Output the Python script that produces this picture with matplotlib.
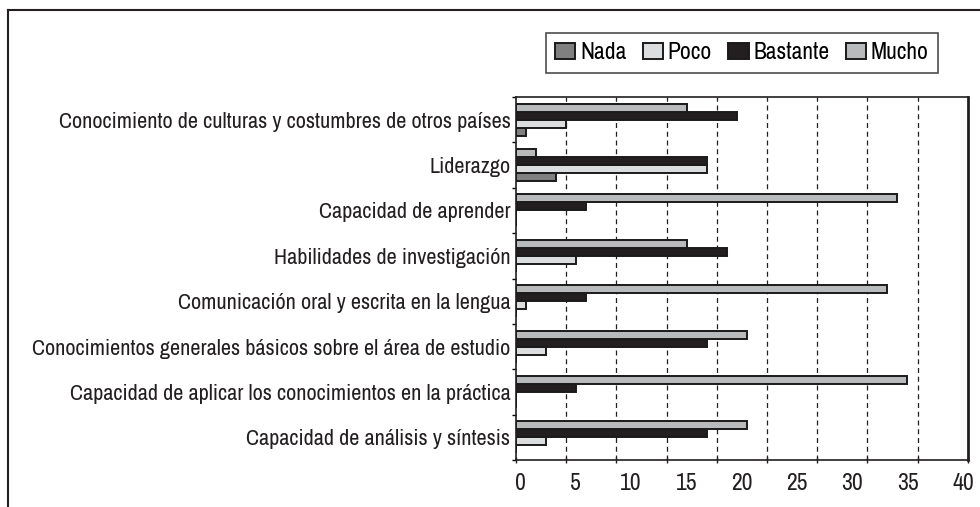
import matplotlib
matplotlib.use("Agg")
import matplotlib.pyplot as plt
import numpy as np
from matplotlib.lines import Line2D
from matplotlib.ticker import FixedLocator, NullFormatter
from matplotlib import font_manager

# pick a narrow/condensed face if one is installed
narrow = None
for f in font_manager.fontManager.ttflist:
    n = f.name
    if 'Narrow' in n or 'Condensed' in n:
        narrow = (n, 'normal')
        break
if narrow is None:
    for f in font_manager.fontManager.ttflist:
        if f.name == 'DejaVu Sans' and f.stretch in ('condensed', 'semi-condensed', 500, 300):
            narrow = ('DejaVu Sans', 'condensed')
            break

if narrow is not None:
    plt.rcParams['font.family'] = [narrow[0], 'DejaVu Sans']
    plt.rcParams['font.stretch'] = narrow[1]
    scale = 1.0
else:
    plt.rcParams['font.family'] = ['DejaVu Sans']
    scale = 0.7

categories = [
    "Conocimiento de culturas y costumbres de otros países",
    "Liderazgo",
    "Capacidad de aprender",
    "Habilidades de investigación",
    "Comunicación oral y escrita en la lengua",
    "Conocimientos generales básicos sobre el área de estudio",
    "Capacidad de aplicar los conocimientos en la práctica",
    "Capacidad de análisis y síntesis",
]
series_names = ["Nada", "Poco", "Bastante", "Mucho"]
nada     = [1, 4, 0, 0, 0, 0, 0, 0]
poco     = [5, 19, 0, 6, 1, 3, 0, 3]
bastante = [22, 19, 7, 21, 7, 19, 6, 19]
mucho    = [17, 2, 38, 17, 37, 23, 39, 23]
tick_labels = [0, 5, 10, 15, 20, 25, 30, 35, 40]

colors = {"Nada": "#808080", "Poco": "#dcdddf", "Bastante": "#231f20", "Mucho": "#b9babc"}

fig = plt.figure(figsize=(9.8, 5.07), dpi=100)
ax = fig.add_axes([516/980, 1 - 460/507, (967.7 - 516)/980, (460 - 97)/507])

y = np.arange(len(categories))
h = 0.176
data = {"Nada": nada, "Poco": poco, "Bastante": bastante, "Mucho": mucho}
offsets = {"Mucho": -1.5*h, "Bastante": -0.5*h, "Poco": 0.5*h, "Nada": 1.5*h}
handles = []
for name in series_names:
    b = ax.barh(y + offsets[name], data[name], height=h, color=colors[name],
                edgecolor="#1a1a1a", linewidth=1.4, zorder=3, label=name)
    handles.append(b)

ax.set_xlim(0, 45)
ax.set_ylim(len(categories) - 0.5, -0.5)
ax.set_yticks(y)
ax.set_yticklabels(categories, fontsize=16*scale, color="#231f20")
ax.yaxis.set_minor_locator(FixedLocator(np.arange(-0.5, len(categories), 1.0)))
ax.tick_params(axis='y', which='major', length=0, pad=4)
ax.tick_params(axis='y', which='minor', length=3, width=1, direction='out')

ax.set_xticks(np.arange(0, 46, 5))
ax.xaxis.set_major_formatter(NullFormatter())
ax.tick_params(axis='x', which='major', length=5, width=1, direction='inout', color="#231f20")
for xv in np.arange(5, 45, 5):
    ax.axvline(xv, color="#231f20", linestyle=(0, (4, 3)), linewidth=0.9, zorder=1)

for side in ['left', 'bottom', 'top']:
    ax.spines[side].set_linewidth(1.2)
    ax.spines[side].set_color("#231f20")
ax.spines['right'].set_linewidth(2.0)
ax.spines['right'].set_color("#231f20")

sec = ax.secondary_xaxis('bottom', functions=(lambda x: (x - 0.4) * 40 / 44.15,
                                              lambda v: v * 44.15 / 40 + 0.4))
sec.set_xticks(tick_labels)
sec.set_xticklabels([str(t) for t in tick_labels], fontsize=17*scale, color="#231f20")
sec.tick_params(length=0, pad=9)
sec.spines['bottom'].set_visible(False)

leg = fig.legend(handles=handles, labels=series_names, ncol=4,
                 loc='upper right', bbox_to_anchor=(938/980, 1 - 33/507),
                 frameon=True, fancybox=False, edgecolor="#231f20",
                 fontsize=17*scale, handlelength=0.85, handleheight=0.65,
                 handletextpad=0.2, columnspacing=0.7, borderpad=0.4,
                 borderaxespad=0)
leg.get_frame().set_linewidth(1.2)

fig.add_artist(Line2D([8/980, 8/980], [0, 1 - 10/507], transform=fig.transFigure,
                      color="#231f20", linewidth=1.5))
fig.add_artist(Line2D([8/980, 1], [1 - 10/507, 1 - 10/507], transform=fig.transFigure,
                      color="#231f20", linewidth=1.5))

fig.savefig("out.png", dpi=100)
